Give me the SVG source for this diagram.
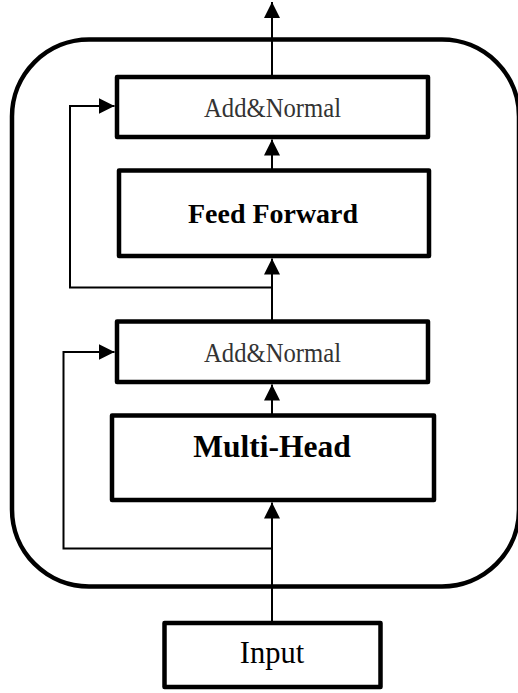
<svg xmlns="http://www.w3.org/2000/svg" width="518" height="693" viewBox="0 0 518 693">
<style>
.box{fill:#fff;stroke:#000;stroke-width:4.5;stroke-linejoin:round}
.wire{fill:none;stroke:#000;stroke-width:2}
.serif{font-family:"Liberation Serif","Times New Roman",serif;text-anchor:middle}
</style>
<defs>
<marker id="ah" markerWidth="16" markerHeight="16" viewBox="0 0 16 16" refX="16" refY="8" orient="auto" markerUnits="userSpaceOnUse">
<path d="M0,0 L16,8 L0,16 Z" fill="#000"/>
</marker>
</defs>
<rect id="container" x="12" y="39.5" width="507" height="547" rx="77" ry="77" fill="none" stroke="#000" stroke-width="4.5"/>
<g id="connectors">
<line class="wire" x1="272" y1="76" x2="272" y2="2" marker-end="url(#ah)"/>
<line class="wire" x1="272" y1="170" x2="272" y2="139.5" marker-end="url(#ah)"/>
<line class="wire" x1="272" y1="321" x2="272" y2="258.5" marker-end="url(#ah)"/>
<polyline class="wire" points="272,287.5 70,287.5 70,106 114.5,106" marker-end="url(#ah)"/>
<line class="wire" x1="272" y1="415" x2="272" y2="384.5" marker-end="url(#ah)"/>
<line class="wire" x1="272" y1="622" x2="272" y2="502.5" marker-end="url(#ah)"/>
<polyline class="wire" points="272,548.5 63.5,548.5 63.5,352 114.5,352" marker-end="url(#ah)"/>
</g>
<g id="add-normal-2">
<rect class="box" x="117" y="77" width="311" height="60"/>
<text class="serif" x="272.5" y="117" font-size="27" fill="#333" textLength="137" lengthAdjust="spacingAndGlyphs">Add&amp;Normal</text>
</g>
<g id="feed-forward">
<rect class="box" x="119" y="170.5" width="310" height="85.5"/>
<text class="serif" x="273" y="223" font-size="27" font-weight="bold" fill="#000" textLength="170" lengthAdjust="spacingAndGlyphs">Feed Forward</text>
</g>
<g id="add-normal-1">
<rect class="box" x="117" y="321.5" width="311" height="60.5"/>
<text class="serif" x="272.5" y="362" font-size="27" fill="#333" textLength="137" lengthAdjust="spacingAndGlyphs">Add&amp;Normal</text>
</g>
<g id="multi-head">
<rect class="box" x="112" y="415.5" width="322" height="84.5"/>
<text class="serif" x="272" y="457" font-size="31.5" font-weight="bold" fill="#000">Multi-Head</text>
</g>
<g id="input">
<rect class="box" x="164.5" y="623" width="216" height="64"/>
<text class="serif" x="272" y="663" font-size="30.5" fill="#000">Input</text>
</g>
</svg>
